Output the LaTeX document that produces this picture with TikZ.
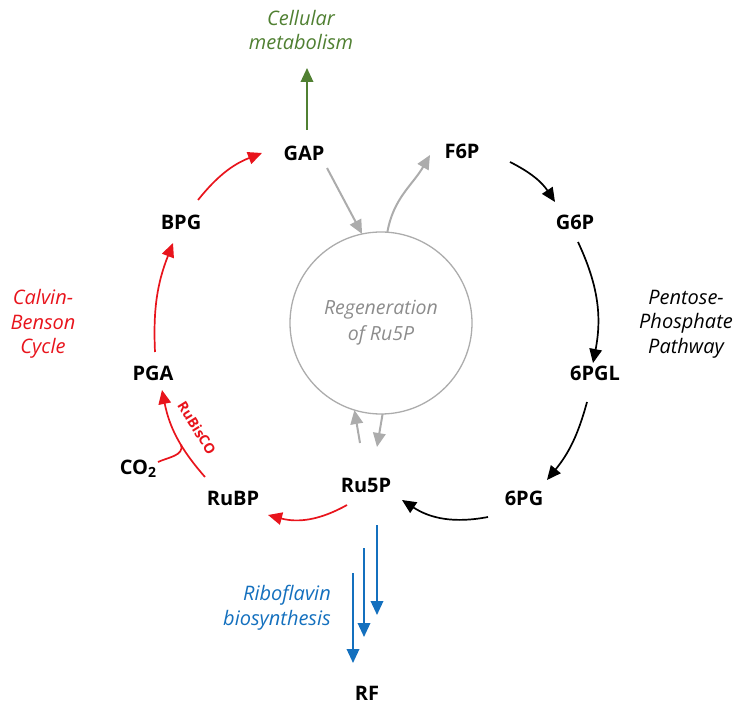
\documentclass[tikz,border=0pt]{standalone}
\usepackage{fontspec}
\setmainfont{Open Sans}
\usetikzlibrary{arrows.meta,calc}
\definecolor{cbred}{RGB}{232,20,28}
\definecolor{metgreen}{RGB}{80,128,50}
\definecolor{ribblue}{RGB}{20,112,190}
\definecolor{regray}{RGB}{172,172,172}
\definecolor{regtext}{RGB}{140,140,140}
\begin{document}
\begin{tikzpicture}[x=1pt,y=1pt,
  metab/.style={font=\fontsize{20}{24}\selectfont\bfseries, inner sep=0pt, outer sep=0pt},
  note/.style={font=\fontsize{20}{24.5}\selectfont\itshape, align=center, inner sep=0pt},
  flow/.style={line width=1.7pt, -{Triangle[length=14pt,width=12.5pt]}},
  redflow/.style={flow, draw=cbred},
  blackflow/.style={flow, draw=black},
  grayflow/.style={flow, draw=regray, line width=2pt},
  blueflow/.style={flow, draw=ribblue, line width=1.9pt},
  greenflow/.style={flow, draw=metgreen, line width=1.9pt}]
\useasboundingbox (0,0) rectangle (736,705);

% metabolites
\node[metab] (gap)  at (304,552) {GAP};
\node[metab] (f6p)  at (462,554) {F6P};
\node[metab] (g6p)  at (575,483) {G6P};
\node[metab] (pgl)  at (595,332) {6PGL};
\node[metab] (pg)   at (524,207) {6PG};
\node[metab] (ru5p) at (366,220) {Ru5P};
\node[metab] (rubp) at (233,207) {RuBP};
\node[metab] (co2)  at (138,236) {CO{\fontsize{14}{14}\selectfont\raisebox{-3pt}{2}}};
\node[metab] (pga)  at (153,332) {PGA};
\node[metab] (bpg)  at (181,483) {BPG};
\node[metab] (rf)   at (367,12)  {RF};

% pathway captions
\node[note, text=metgreen] (cell) at (301,675) {Cellular\\metabolism};
\node[note, text=black] (ppp) at (686,381) {Pentose-\\Phosphate\\Pathway};
\node[note, text=cbred] (cbc) at (43,381) {Calvin-\\Benson\\Cycle};
\node[note, text=ribblue, align=right, anchor=east] (ribo) at (331,97) {Riboflavin\\biosynthesis};

% regeneration pool
\node[circle, draw=regray, line width=1.3pt, minimum size=182pt, inner sep=0pt, outer sep=0pt,
      note, font=\fontsize{19.5}{26}\selectfont\itshape, text=regtext] (reg) at (381,382) {Regeneration\\of Ru5P};

% export to cellular metabolism
\draw[greenflow] ($(gap)+(3,23)$) -- ($(cell)+(6,-38)$);

% regeneration exchanges
\draw[grayflow] ($(gap)+(23,-15)$) -- (reg.102);
\draw[grayflow] (reg.86) to[out=80,in=240] ($(f6p)+(-32,-4)$);
\draw[grayflow] ($(ru5p)+(-6,42)$) -- (reg.-107);
\draw[grayflow] (reg.-89) -- ($(ru5p)+(11,38)$);

% pentose phosphate pathway
\draw[blackflow] ($(f6p)+(48,-11)$) to[bend left=15] ($(g6p)+(-20,20)$);
\draw[blackflow] ($(g6p)+(3,-20)$) to[bend left=18] ($(pgl)+(-2,10)$);
\draw[blackflow] ($(pgl)+(-8,-29)$) to[bend left=12] ($(pg)+(23,18)$);
\draw[blackflow] ($(pg)+(-36,-19)$) to[bend left=22] ($(ru5p)+(36,-15)$);

% Calvin-Benson cycle
\draw[redflow] ($(rubp)+(-28,21)$) to[bend left=15]
   coordinate[pos=0.4] (fix) ($(pga)+(9,-17)$);
\node[rotate=-58, inner sep=0pt, font=\fontsize{14}{14}\selectfont\bfseries, text=cbred] (rbc)
   at ($(rubp)+(-36,70)$) {RuBisCO};
\draw[cbred, line width=1.7pt] ($(co2)+(20,7)$) to[out=25,in=-75] (fix);
\draw[redflow] ($(ru5p)+(-19,-20)$) to[bend left=22] ($(rubp)+(35,-17)$);
\draw[redflow] ($(pga)+(2,21)$) to[bend left=12] ($(bpg)+(-8,-21)$);
\draw[redflow] ($(bpg)+(17,22)$) to[bend left=15] ($(gap)+(-42,0)$);

% riboflavin biosynthesis
\draw[blueflow] ($(ru5p)+(11,-40)$) -- ($(rf)+(10,78)$);
\draw[blueflow] ($(ru5p)+(-2,-63)$) -- ($(rf)+(-3,56)$);
\draw[blueflow] ($(ru5p)+(-13,-88)$) -- ($(rf)+(-14,30)$);
\end{tikzpicture}
\end{document}
